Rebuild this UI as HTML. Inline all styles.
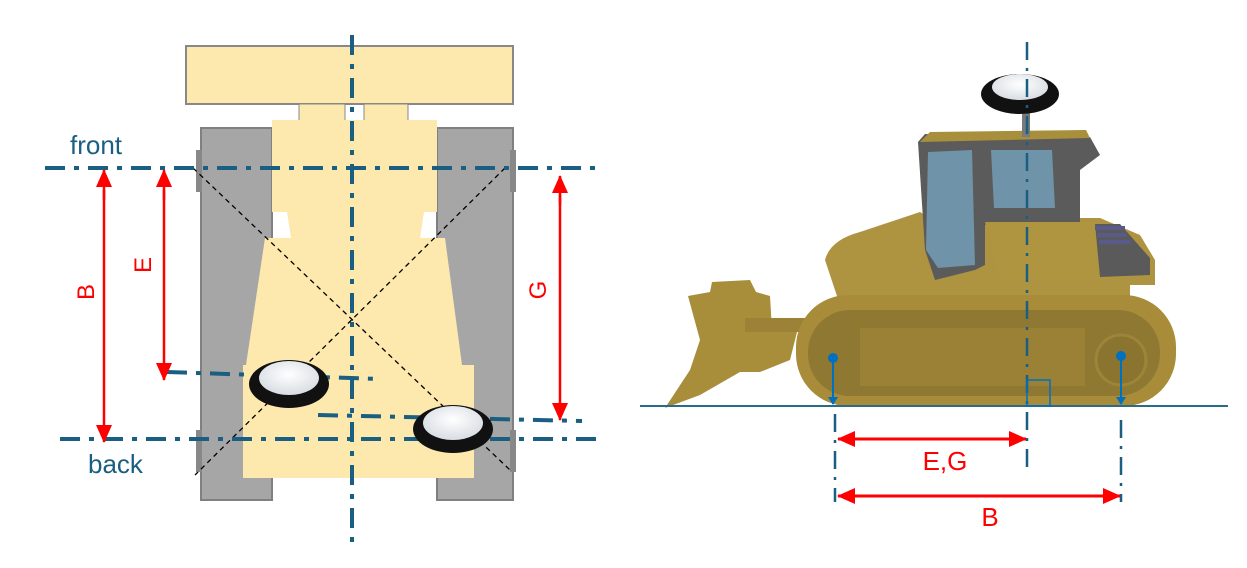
<!DOCTYPE html>
<html><head><meta charset="utf-8"><style>
html,body{margin:0;padding:0;background:#fff;}
svg{display:block;}
text{font-family:"Liberation Sans",sans-serif;}
</style></head><body>
<svg width="1247" height="568" viewBox="0 0 1247 568" xmlns="http://www.w3.org/2000/svg">
<defs>
<marker id="ra" markerWidth="18" markerHeight="16" refX="17" refY="8" orient="auto" markerUnits="userSpaceOnUse" viewBox="0 0 18 16"><path d="M0,0 L18,8 L0,16 z" fill="#f00"/></marker>
<marker id="ba" markerWidth="8" markerHeight="10" refX="7" refY="5" orient="auto" markerUnits="userSpaceOnUse" viewBox="0 0 8 10"><path d="M0,0 L8,5 L0,10 z" fill="#0070c0"/></marker>
<radialGradient id="ant" cx="50%" cy="40%" r="60%"><stop offset="0" stop-color="#fff"/><stop offset="1" stop-color="#d8dde2"/></radialGradient>
</defs>
<!-- LEFT DIAGRAM -->
<rect x="186" y="46" width="327" height="58" fill="#fde9ae" stroke="#888" stroke-width="2"/>
<rect x="299" y="104" width="46" height="18" fill="#fde9ae" stroke="#888" stroke-width="1"/>
<rect x="364" y="104" width="44" height="18" fill="#fde9ae" stroke="#888" stroke-width="1"/>
<rect x="201" y="128" width="71" height="372" fill="#a6a6a6" stroke="#808080" stroke-width="2"/>
<rect x="437" y="128" width="76" height="372" fill="#a6a6a6" stroke="#808080" stroke-width="2"/>
<rect x="196" y="150" width="6" height="42" fill="#888"/>
<rect x="196" y="430" width="6" height="42" fill="#888"/>
<rect x="510" y="150" width="6" height="42" fill="#888"/>
<rect x="510" y="430" width="6" height="42" fill="#888"/>
<path d="M272,120 L437,120 L437,212 L432,212 L420,238 L445,238 L462,365 L474,365 L474,478 L243,478 L243,365 L246,365 L265,238 L291,238 L285,212 L272,212 Z" fill="#fde9ae"/>
<path d="M280,212 L287,212 L291,238 L280,238 Z" fill="#fff"/>
<path d="M424,212 L432,212 L432,238 L420,238 Z" fill="#fff"/>
<g stroke="#000" stroke-width="1.3" stroke-dasharray="5,4" fill="none">
<line x1="193" y1="168" x2="510" y2="470"/>
<line x1="505" y1="168" x2="195" y2="475"/>
</g>
<g stroke="#1a5f82" stroke-width="4" stroke-dasharray="20,9,5,9" fill="none">
<line x1="45" y1="168" x2="595" y2="168"/>
<line x1="60" y1="439" x2="600" y2="439"/>
<line x1="352" y1="35" x2="352" y2="548"/>
<line x1="167" y1="372" x2="380" y2="379"/>
<line x1="318" y1="415" x2="582" y2="421"/>
</g>
<g>
<ellipse cx="289" cy="384" rx="40" ry="24" fill="#111"/>
<ellipse cx="289" cy="378" rx="30" ry="17" fill="url(#ant)"/>
<ellipse cx="453" cy="429" rx="40" ry="24" fill="#111"/>
<ellipse cx="453" cy="423" rx="30" ry="17" fill="url(#ant)"/>
</g>
<g stroke="#f00" stroke-width="2.5">
<line x1="104" y1="200" x2="104" y2="170" marker-end="url(#ra)"/>
<line x1="104" y1="190" x2="104" y2="442" marker-end="url(#ra)"/>
<line x1="164" y1="200" x2="164" y2="170" marker-end="url(#ra)"/>
<line x1="164" y1="190" x2="164" y2="380" marker-end="url(#ra)"/>
<line x1="560" y1="205" x2="560" y2="176" marker-end="url(#ra)"/>
<line x1="560" y1="195" x2="560" y2="420" marker-end="url(#ra)"/>
</g>
<text x="0" y="0" font-size="24" fill="#f00" transform="translate(94,292) rotate(-90)" text-anchor="middle">B</text>
<text x="0" y="0" font-size="24" fill="#f00" transform="translate(151,265) rotate(-90)" text-anchor="middle">E</text>
<text x="0" y="0" font-size="24" fill="#f00" transform="translate(546,290) rotate(-90)" text-anchor="middle">G</text>
<text x="70" y="154" font-size="26" fill="#1a5f82">front</text>
<text x="88" y="473" font-size="26" fill="#1a5f82">back</text>
<!-- RIGHT DIAGRAM -->
<g>
<path d="M688,296 L710,292 L712,282 L750,280 L756,292 L770,296 L772,330 L790,330 L800,320 L790,360 L760,372 L740,372 L700,395 L665,408 L690,370 L700,340 Z" fill="#a88d3a"/>
<rect x="745" y="318" width="60" height="14" fill="#9b8236"/>
<path d="M825,260 Q830,240 860,232 L920,212 L930,218 L1100,218 L1140,235 L1155,260 L1155,285 L1130,285 L1130,300 L840,305 Z" fill="#ae9340"/>
<path d="M918,142 L925,134 L1090,137 L1100,155 L1080,170 L1080,225 L985,225 L985,265 L975,270 L935,280 L925,250 Z" fill="#5b5b5b"/>
<path d="M920,142 L1090,138 L1086,130 L930,132 Z" fill="#a88f3c"/>
<path d="M928,152 L972,150 L975,265 L938,268 L926,250 Z" fill="#6f93a8"/>
<path d="M991,150 L1052,150 L1055,208 L994,208 Z" fill="#6f93a8"/>
<path d="M985,222 L1085,222 L1100,222 L1140,255 L1140,275 L1100,280 L1000,280 Z" fill="#b09540"/>
<path d="M1095,224 L1120,224 L1150,258 L1150,275 L1100,277 Z" fill="#5a5a5a"/>
<rect x="1095" y="226" width="30" height="4" fill="#5a5a8a"/>
<rect x="1097" y="233" width="30" height="4" fill="#5a5a8a"/>
<rect x="1099" y="240" width="32" height="4" fill="#5a5a8a"/>
<rect x="796" y="295" width="380" height="111" rx="52" ry="52" fill="#a88c3a"/>
<rect x="808" y="310" width="352" height="86" rx="42" ry="42" fill="#8f7832"/>
<rect x="860" y="328" width="225" height="58" fill="#9a8136"/>
<circle cx="1121" cy="360" r="25" fill="#8a7430" stroke="#9c8538" stroke-width="3"/>
<rect x="1022" y="105" width="8" height="32" fill="#7a7a7a"/>
<ellipse cx="1020" cy="94" rx="39" ry="20" fill="#111"/>
<ellipse cx="1020" cy="87" rx="28" ry="13" fill="url(#ant)"/>
</g>
<line x1="640" y1="406" x2="1228" y2="406" stroke="#2a6a8a" stroke-width="2"/>
<g stroke="#1a5f82" stroke-width="2.5" stroke-dasharray="18,8,3,8" fill="none">
<line x1="1027" y1="42" x2="1027" y2="470"/>
<line x1="835" y1="414" x2="835" y2="502"/>
<line x1="1121" y1="420" x2="1121" y2="502"/>
</g>
<rect x="1027" y="380" width="23" height="26" fill="none" stroke="#0070c0" stroke-width="1.5"/>
<circle cx="833" cy="358" r="5" fill="#0070c0"/>
<circle cx="1121" cy="356" r="5" fill="#0070c0"/>
<g stroke="#0070c0" stroke-width="2">
<line x1="833" y1="358" x2="833" y2="404" marker-end="url(#ba)"/>
<line x1="1121" y1="356" x2="1121" y2="404" marker-end="url(#ba)"/>
</g>
<g stroke="#f00" stroke-width="3">
<line x1="870" y1="439" x2="838" y2="439" marker-end="url(#ra)"/>
<line x1="850" y1="439" x2="1026" y2="439" marker-end="url(#ra)"/>
<line x1="870" y1="496" x2="838" y2="496" marker-end="url(#ra)"/>
<line x1="850" y1="496" x2="1120" y2="496" marker-end="url(#ra)"/>
</g>
<text x="945" y="470" font-size="26" fill="#f00" text-anchor="middle">E,G</text>
<text x="990" y="526" font-size="26" fill="#f00" text-anchor="middle">B</text>
</svg>
</body></html>
